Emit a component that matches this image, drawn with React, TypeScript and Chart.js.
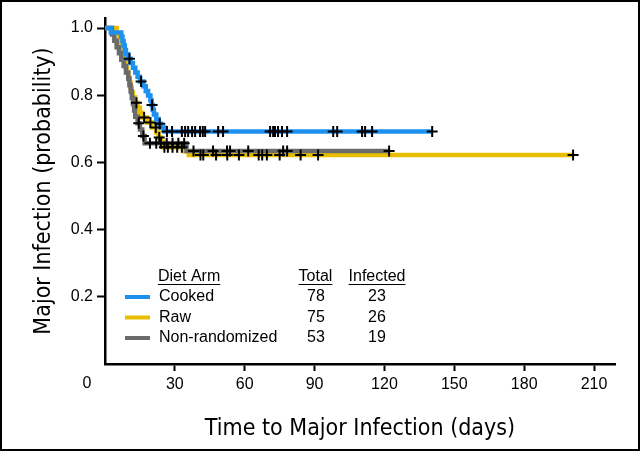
import React, { useEffect, useRef } from "react";
import { Chart, registerables } from "chart.js";

Chart.register(...registerables);

// ---- axis ticks ----
const xTickValues = [30, 60, 90, 120, 150, 180, 210];
const yTickValues = [0.2, 0.4, 0.6, 0.8, 1.0];

// ---- Cooked arm (step curve: event days and survival after each event) ----
const cookedTimes = [0, 2.5, 7, 7.5, 8, 8.5, 9, 10, 11, 12, 13, 14, 15, 16.5, 17.5, 18.5, 19.5, 20, 20.5, 21, 22, 23, 24, 25.5];
const cookedSurv = [1.0, 0.987, 0.974, 0.961, 0.948, 0.935, 0.922, 0.909, 0.896, 0.882, 0.868, 0.855, 0.841, 0.827, 0.813, 0.799, 0.785, 0.771, 0.757, 0.743, 0.729, 0.715, 0.704, 0.692];
const cookedEnd = 140.5;
const cookedCensor = [10.5, 15.5, 20.2, 23.5, 26.6, 28.8, 33, 34.4, 35.7, 37.4, 38.7, 40.8, 42, 43, 48.6, 50.7, 70.9, 72.2, 73, 74.3, 76, 78.2, 98, 99.7, 110.4, 111.7, 114.7, 140.5];

// ---- Raw arm ----
const rawTimes = [0, 5, 6, 6.5, 7, 7.5, 8, 8.5, 9, 9.5, 10, 10.5, 11, 11.5, 12, 13, 14, 15, 16, 18, 20, 22, 23, 24, 25, 34, 36];
const rawSurv = [1.0, 0.985, 0.97, 0.956, 0.941, 0.926, 0.911, 0.896, 0.882, 0.867, 0.852, 0.837, 0.822, 0.808, 0.793, 0.778, 0.763, 0.748, 0.734, 0.719, 0.704, 0.689, 0.674, 0.66, 0.645, 0.633, 0.622];
const rawEnd = 201;
const rawCensor = [13.5, 16.8, 19.5, 21.8, 23.3, 25.5, 27, 29, 31, 33, 41, 42.2, 47.7, 52.5, 57.5, 66, 67.5, 69.5, 75, 84, 91.5, 201];

// ---- Non-randomized arm ----
const nonrandTimes = [0, 3, 4, 5, 6, 7, 8, 9, 10, 10.5, 11, 11.5, 12, 12.5, 13, 14, 15, 16, 17, 35];
const nonrandSurv = [1.0, 0.981, 0.962, 0.943, 0.925, 0.906, 0.887, 0.868, 0.849, 0.83, 0.811, 0.792, 0.774, 0.755, 0.736, 0.717, 0.698, 0.679, 0.657, 0.634];
const nonrandEnd = 122;
const nonrandCensor = [14.5, 16.5, 19.3, 22, 24, 26.5, 29, 31.5, 34, 38, 46.4, 52.4, 53.7, 61.5, 76.5, 78.2, 122];

// ---- legend table ----
const legendArms = ["Cooked", "Raw", "Non-randomized"];
const legendTotals = [78, 75, 53];
const legendInfected = [23, 26, 19];
const armColors = ["#1e90f0", "#e8bf00", "#6b6b6b"];

const TICK_FONT = "'Liberation Sans', Arial, sans-serif";
const TITLE_FONT = "'Liberation Sans Narrow', 'DejaVu Sans Condensed', sans-serif";

function stepPoints(times: number[], surv: number[], end: number) {
  const pts = times.map((t, i) => ({ x: t, y: surv[i] }));
  pts.push({ x: end, y: surv[surv.length - 1] });
  return pts;
}

function survivalAt(times: number[], surv: number[], day: number) {
  let v = surv[0];
  for (let i = 0; i < times.length; i++) {
    if (times[i] <= day) v = surv[i];
  }
  return v;
}

function censorPoints(times: number[], surv: number[], days: number[]) {
  return days.map((d) => ({ x: d, y: survivalAt(times, surv, d) }));
}

const decorPlugin = {
  id: "decor",
  afterDraw(chart: any) {
    const ctx = chart.ctx;
    ctx.save();
    // outer frame
    ctx.strokeStyle = "#000";
    ctx.lineWidth = 2;
    ctx.strokeRect(1, 1, chart.width - 2, chart.height - 2);

    // shared origin label
    ctx.fillStyle = "#000";
    ctx.font = `16px ${TICK_FONT}`;
    ctx.textAlign = "center";
    ctx.textBaseline = "middle";
    ctx.fillText("0", 87, 384);

    // legend table
    const headerY = 277;
    const rowYs = [297, 317.5, 338];
    ctx.textAlign = "left";
    ctx.fillText("Diet Arm", 158, headerY);
    ctx.textAlign = "center";
    ctx.fillText("Total", 315.5, headerY);
    ctx.fillText("Infected", 377, headerY);
    ctx.lineWidth = 1;
    const ul = (x1: number, x2: number) => {
      ctx.beginPath();
      ctx.moveTo(x1, headerY + 7.5);
      ctx.lineTo(x2, headerY + 7.5);
      ctx.stroke();
    };
    const w1 = ctx.measureText("Diet Arm").width;
    ul(158, 158 + w1);
    const w2 = ctx.measureText("Total").width;
    ul(315.5 - w2 / 2, 315.5 + w2 / 2);
    const w3 = ctx.measureText("Infected").width;
    ul(377 - w3 / 2, 377 + w3 / 2);

    legendArms.forEach((arm, i) => {
      const y = rowYs[i];
      ctx.strokeStyle = armColors[i];
      ctx.lineWidth = 4;
      ctx.beginPath();
      ctx.moveTo(125, y);
      ctx.lineTo(150, y);
      ctx.stroke();
      ctx.fillStyle = "#000";
      ctx.textAlign = "left";
      ctx.fillText(arm, 159, y);
      ctx.textAlign = "center";
      ctx.fillText(String(legendTotals[i]), 316, y);
      ctx.fillText(String(legendInfected[i]), 377, y);
    });
    ctx.restore();
  },
};

export default function App() {
  const canvasRef = useRef<HTMLCanvasElement | null>(null);

  useEffect(() => {
    document.body.style.margin = "0";
    const canvas = canvasRef.current;
    if (!canvas) return;

    const censorStyle = {
      showLine: false,
      pointStyle: "cross",
      pointRadius: 5.5,
      pointBorderWidth: 2,
      pointBorderColor: "#000",
      borderColor: "#000",
      backgroundColor: "#000",
      order: 0,
    };
    const lineStyle = {
      stepped: true,
      pointRadius: 0,
      borderWidth: 4.5,
      fill: false,
    };

    const chart = new Chart(canvas, {
      type: "line",
      data: {
        datasets: [
          { ...censorStyle, label: "Cooked censored", data: censorPoints(cookedTimes, cookedSurv, cookedCensor) },
          { ...censorStyle, label: "Raw censored", data: censorPoints(rawTimes, rawSurv, rawCensor) },
          { ...censorStyle, label: "Non-randomized censored", data: censorPoints(nonrandTimes, nonrandSurv, nonrandCensor) },
          { ...lineStyle, label: "Cooked", data: stepPoints(cookedTimes, cookedSurv, cookedEnd), borderColor: armColors[0], order: 1 },
          { ...lineStyle, label: "Non-randomized", data: stepPoints(nonrandTimes, nonrandSurv, nonrandEnd), borderColor: armColors[2], order: 2 },
          { ...lineStyle, label: "Raw", data: stepPoints(rawTimes, rawSurv, rawEnd), borderColor: armColors[1], order: 3 },
        ] as any,
      },
      options: {
        animation: false,
        responsive: false,
        maintainAspectRatio: false,
        layout: { padding: { left: 0, right: 25, top: 18, bottom: 0 } },
        plugins: { legend: { display: false }, tooltip: { enabled: false } },
        scales: {
          x: {
            type: "linear",
            min: 0,
            max: 219,
            afterBuildTicks: (s: any) => {
              s.ticks = xTickValues.map((v) => ({ value: v }));
            },
            afterFit: (s: any) => {
              s.height = 87;
            },
            ticks: {
              color: "#000",
              font: { family: TICK_FONT, size: 16 },
              padding: 4,
              maxRotation: 0,
              autoSkip: false,
              callback: (v: any) => String(v),
            },
            grid: { drawOnChartArea: false, drawTicks: true, tickLength: 7, tickWidth: 2, color: "#000" },
            border: { display: true, color: "#000", width: 2.5 },
            title: {
              display: true,
              text: "Time to Major Infection (days)",
              color: "#000",
              font: { family: TITLE_FONT, size: 23 },
              padding: { top: 0, bottom: 8 },
            },
          },
          y: {
            type: "linear",
            min: 0,
            max: 1.03,
            afterBuildTicks: (s: any) => {
              s.ticks = yTickValues.map((v) => ({ value: v }));
            },
            afterFit: (s: any) => {
              s.width = 105;
            },
            ticks: {
              color: "#000",
              font: { family: TICK_FONT, size: 16 },
              padding: 4,
              autoSkip: false,
              callback: (v: any) => Number(v).toFixed(1),
            },
            grid: { drawOnChartArea: false, drawTicks: true, tickLength: 8, tickWidth: 2, color: "#000" },
            border: { display: true, color: "#000", width: 2.5 },
            title: {
              display: true,
              text: "Major Infection (probability)",
              color: "#000",
              font: { family: TITLE_FONT, size: 23 },
              padding: { top: 30, bottom: 0 },
            },
          },
        },
      } as any,
      plugins: [decorPlugin],
    });

    return () => chart.destroy();
  }, []);

  return (
    <div style={{ width: 640, height: 451 }}>
      <canvas ref={canvasRef} width={640} height={451} style={{ display: "block", width: 640, height: 451 }} />
    </div>
  );
}
